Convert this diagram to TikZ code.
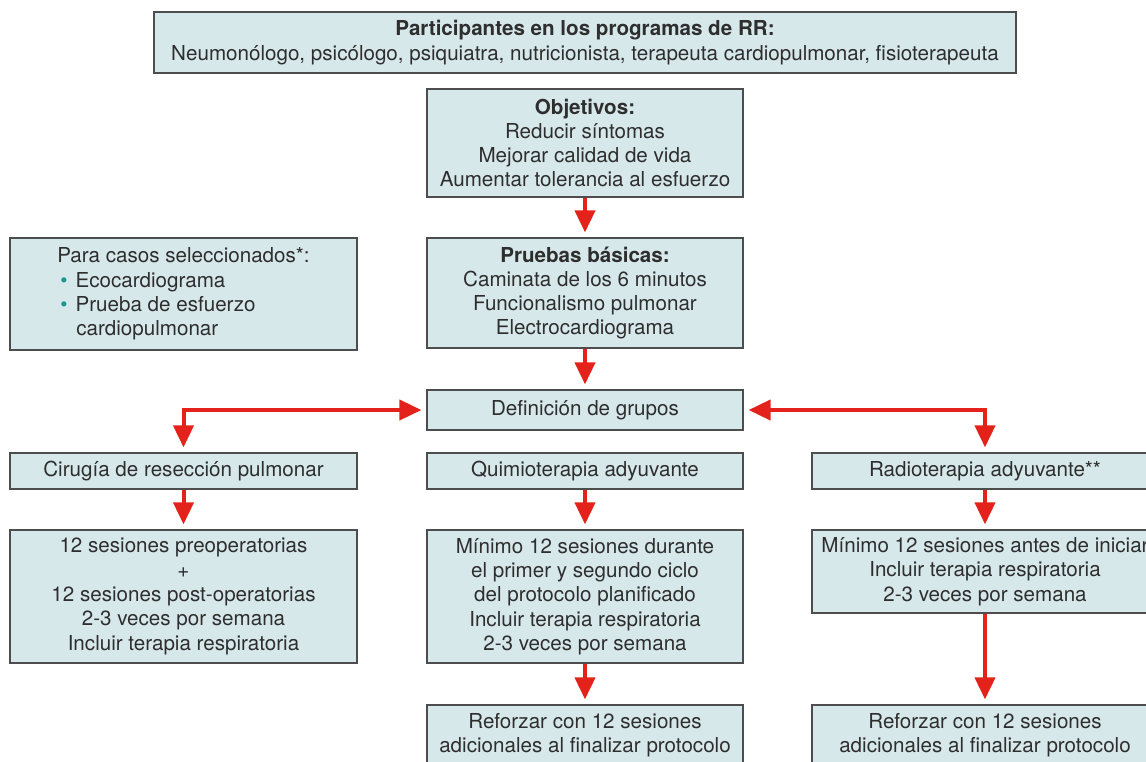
\documentclass[tikz,border=0pt]{standalone}
\usepackage{fontspec}
\setmainfont{TeX Gyre Heros}
\usetikzlibrary{arrows.meta,positioning}
\definecolor{boxfill}{HTML}{D7E8EB}
\definecolor{boxline}{HTML}{4D4D4D}
\definecolor{txtgray}{HTML}{2E2E2E}
\definecolor{arrred}{HTML}{E3231B}
\definecolor{bullteal}{HTML}{1E9490}

\begin{document}
\begin{tikzpicture}
[x=1pt, y=-1pt, font=\fontsize{20.6}{24.3}\selectfont, text=txtgray,
box/.style={rectangle, draw=boxline, fill=boxfill, line width=1.2pt, inner sep=0pt, align=center},
arr/.style={-{Triangle[length=22pt,width=20pt]}, draw=arrred, line width=4pt, shorten >=5pt},
arr2/.style={{Triangle[length=22pt,width=20pt]}-{Triangle[length=22pt,width=20pt]}, draw=arrred, line width=4pt, shorten >=5pt, shorten <=5pt}]

\useasboundingbox (0,0) rectangle (1146,761);
\clip (0,0) rectangle (1146,761);

\node[box, minimum width=862pt, minimum height=61pt] (part) at (585,42.5)
  {\textbf{Participantes en los programas de RR:}\\Neumonólogo, psicólogo, psiquiatra, nutricionista, terapeuta cardiopulmonar, fisioterapeuta};

\node[box, minimum width=316pt, minimum height=108pt] (obj) at (585,143)
  {\textbf{Objetivos:}\\Reducir síntomas\\Mejorar calidad de vida\\Aumentar tolerancia al esfuerzo};
\node[box, minimum width=316pt, minimum height=110pt] (pru) at (585,293)
  {\textbf{Pruebas básicas:}\\Caminata de los 6 minutos\\Funcionalismo pulmonar\\Electrocardiograma};
\node[box, align=left, minimum width=347pt, minimum height=112pt] (sel) at (183.5,294)
  {Para casos seleccionados*:\\
   \hspace*{3pt}\textcolor{bullteal}{\textbullet}\hspace{8pt}Ecocardiograma\\
   \hspace*{3pt}\textcolor{bullteal}{\textbullet}\hspace{8pt}Prueba de esfuerzo\\
   \hspace*{19pt}cardiopulmonar};

\node[box, minimum width=316pt, minimum height=40pt] (def) at (585,410) {Definición de grupos};

\node[box, minimum width=347pt, minimum height=36pt] (cir) at (183.5,471) {Cirugía de resección pulmonar};
\node[box, minimum width=316pt, minimum height=36pt] (qui) at (585,471) {Quimioterapia adyuvante};
\node[box, minimum width=346pt, minimum height=36pt] (rad) at (985,471) {Radioterapia adyuvante**};

\node[box, minimum width=347pt, minimum height=133pt] (ses1) at (183.5,596.5)
  {12 sesiones preoperatorias\\+\\12 sesiones post-operatorias\\2-3 veces por semana\\Incluir terapia respiratoria};
\node[box, minimum width=316pt, minimum height=133pt] (ses2) at (585,596.5)
  {Mínimo 12 sesiones durante\\el primer y segundo ciclo\\del protocolo planificado\\Incluir terapia respiratoria\\2-3 veces por semana};
\node[box, minimum width=346pt, minimum height=83pt] (ses3) at (985,571.5)
  {Mínimo 12 sesiones antes de iniciar\\Incluir terapia respiratoria\\2-3 veces por semana};

\node[box, minimum width=316pt, minimum height=60pt] (ref2) at (585,735)
  {Reforzar con 12 sesiones\\adicionales al finalizar protocolo};
\node[box, minimum width=346pt, minimum height=60pt] (ref3) at (985,735)
  {Reforzar con 12 sesiones\\adicionales al finalizar protocolo};

\foreach \a/\b in {obj/pru, pru/def, cir/ses1, qui/ses2, rad/ses3, ses2/ref2, ses3/ref3}
  \draw[arr] (\a) -- (\b);

\draw[arr2] (def.west) -| (cir.north);
\draw[arr2] (def.east) -| (rad.north);
\end{tikzpicture}
\end{document}
